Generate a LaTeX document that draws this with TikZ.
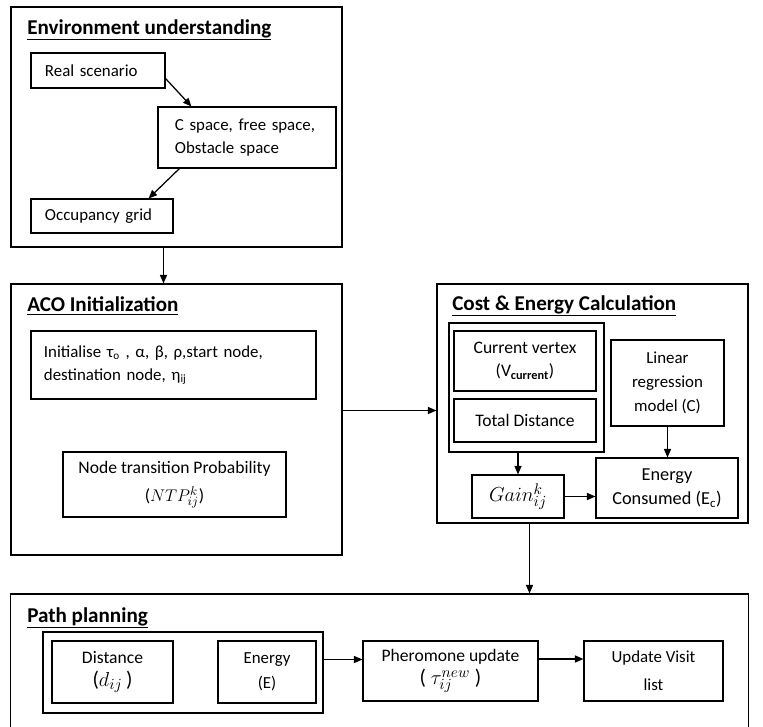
\documentclass[tikz,border=0pt]{standalone}
\usepackage{fontspec}
\setmainfont{Carlito}
\usetikzlibrary{calc,positioning,arrows.meta}

\begin{document}
\begin{tikzpicture}[
        x=0.025cm, y=-0.025cm,
        every node/.style={font=\fontsize{12.5}{16.5}\selectfont},
        frame/.style={draw, line width=0.8pt, inner sep=0pt},
        box/.style={draw, line width=0.8pt, align=center, inner sep=2pt},
        lbox/.style={draw, line width=0.8pt, align=left, inner xsep=0.35cm, inner ysep=2pt},
        heading/.style={anchor=west, inner sep=0pt, font=\fontsize{15}{17}\selectfont\bfseries},
        flow/.style={line width=0.9pt, -{Triangle[length=6pt,width=5pt]}}
    ]
    \clip (0,0) rectangle (763,727);

    % environment understanding
    \node (env) [frame, minimum width=8.275cm, minimum height=6cm] at (176.5,127) {};
    \node (envT) [heading] at (27,30) {\underline{Environment understanding}};
    \node (real) [lbox, text width=2.65cm, minimum height=0.875cm, font=\fontsize{12}{16.5}\selectfont]
        at (98,70.5) {Real scenario};
    \node (cspace) [lbox, inner xsep=0.425cm, text width=3.6cm, minimum height=1.525cm,
        font=\fontsize{12}{16.5}\selectfont] at (247,137.5) {C space, free space,\\Obstacle space};
    \node (occ) [lbox, text width=2.85cm, minimum height=0.85cm, font=\fontsize{12}{16.5}\selectfont]
        at (102,216) {Occupancy grid};
    \draw [flow] ($(real.south east)+(0,-10)$) -- ($(cspace.north west)+(34,0)$);
    \draw [flow] ($(cspace.south west)+(22,0)$) -- ($(occ.north east)+(-25,0)$);

    % ACO initialization
    \node (aco) [frame, minimum width=8.275cm, minimum height=6.775cm] at (176.5,419.5) {};
    \node (acoT) [heading] at (27,306) {\underline{ACO Initialization}};
    \node (init) [lbox, inner xsep=0.325cm, text width=6.475cm, minimum height=1.7cm,
        font=\fontsize{12}{16.5}\selectfont] at (173.5,365)
        {Initialise τ\textsubscript{o} , α, β, ρ,start node,\\destination node, η\textsubscript{ij}};
    \node (ntp) [box, minimum width=5.575cm, minimum height=1.625cm, font=\fontsize{12.5}{20}\selectfont]
        at (174.5,484.5) {Node transition Probability\\($NTP^k_{ij}$)};
    \draw [flow] ($(env.south)+(-13,0)$) -- ($(aco.north)+(-13,0)$);

    % cost and energy calculation
    \node (cost) [frame, minimum width=7.775cm, minimum height=5.975cm] at (592.5,403.5) {};
    \node (costT) [heading] at (452,306) {\underline{Cost \& Energy Calculation}};
    \node (grp) [frame, minimum width=3.875cm, minimum height=3.225cm] at (526.5,387.5) {};
    \node (cur) [box, minimum width=3.55cm, minimum height=1.5cm] at (525,361)
        {Current vertex\\(V\textsubscript{\textbf{current}})};
    \node (tot) [box, minimum width=3.55cm, minimum height=1.075cm] at (525,420.5) {Total Distance};
    \node (lin) [box, minimum width=2.825cm, minimum height=2.15cm, font=\fontsize{12}{17}\selectfont]
        at (667.5,383) {Linear\\regression\\model (C)};
    \node (gain) [box, minimum width=2.3cm, minimum height=1.075cm, font=\fontsize{15}{17}\selectfont]
        at (518,496.5) {$Gain^k_{ij}$};
    \node (econ) [box, minimum width=3.55cm, minimum height=1.5cm, font=\fontsize{13}{17}\selectfont]
        at (667,488) {Energy\\Consumed (E\textsubscript{c})};
    \coordinate (acoOut) at ($(aco.east)+(0,-9)$);
    \draw [flow] (acoOut) -- (acoOut -| cost.west);
    \draw [flow] (grp.south -| gain.north) -- (gain.north);
    \draw [flow] (lin.south) -- (lin.south |- econ.north);
    \draw [flow] (gain.east) -- (gain.east -| econ.west);

    % path planning
    \node (plan) [frame, minimum width=18.425cm, minimum height=4cm] at (379.5,674) {};
    \node (planT) [heading] at (27,618) {\underline{Path planning}};
    \node (pgrp) [frame, minimum width=7cm, minimum height=2.025cm] at (183,672.5) {};
    \node (dist) [box, minimum width=3.025cm, minimum height=1.55cm] at (112.5,672)
        {Distance\\{\fontsize{15}{17}\selectfont($d_{ij}$\,)}};
    \node (ener) [box, minimum width=2.45cm, minimum height=1.55cm, font=\fontsize{12}{18}\selectfont]
        at (267,672) {Energy\\(E)};
    \node (pher) [box, minimum width=4.375cm, minimum height=1.5cm] at (450.5,671)
        {Pheromone update\\{\fontsize{15}{21}\selectfont( $\tau^{new}_{ij}$ )}};
    \node (upd) [box, minimum width=3.475cm, minimum height=1.5cm, font=\fontsize{12}{20}\selectfont]
        at (653.5,671) {Update Visit\\list};
    \coordinate (costOut) at ($(cost.south)+(-63,0)$);
    \draw [flow] (costOut) -- (costOut |- plan.north);
    \coordinate (pgrpOut) at ($(pgrp.east)+(0,-13)$);
    \draw [flow] (pgrpOut) -- (pgrpOut -| pher.west);
    \coordinate (pherOut) at ($(pher.east)+(0,-12)$);
    \draw [flow] (pherOut) -- (pherOut -| upd.west);
\end{tikzpicture}
\end{document}
